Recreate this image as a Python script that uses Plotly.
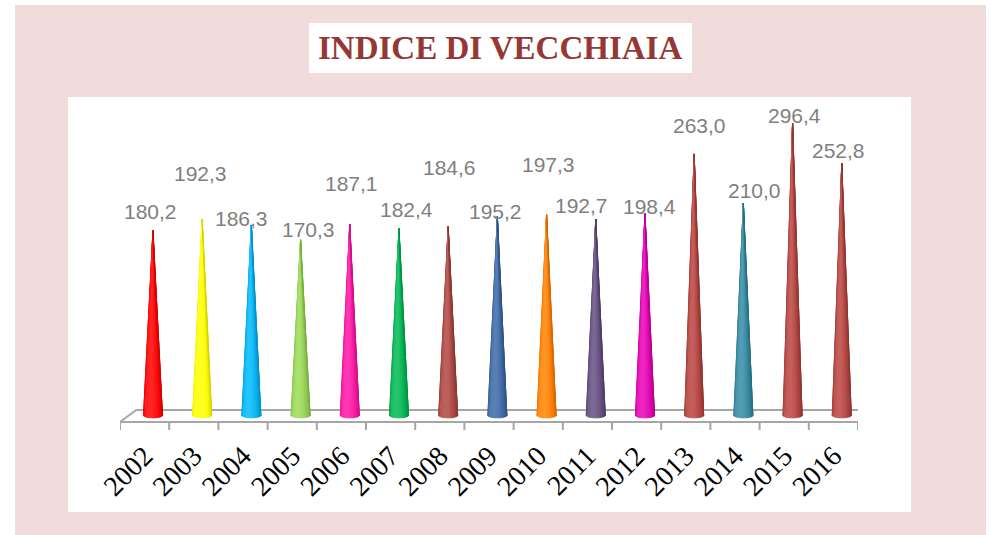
import numpy as np
import plotly.graph_objects as go

# ---------------- data ----------------
years = ["2002", "2003", "2004", "2005", "2006", "2007", "2008", "2009",
         "2010", "2011", "2012", "2013", "2014", "2015", "2016"]
values = [180.2, 192.3, 186.3, 170.3, 187.1, 182.4, 184.6, 195.2,
          197.3, 192.7, 198.4, 263.0, 210.0, 296.4, 252.8]
value_labels = ["180,2", "192,3", "186,3", "170,3", "187,1", "182,4", "184,6", "195,2",
                "197,3", "192,7", "198,4", "263,0", "210,0", "296,4", "252,8"]

# ---------------- styles ----------------
cone_colors = ["#ff0000", "#ffff00", "#00b0f0", "#92d050", "#f7149f", "#00b050",
               "#a8423e", "#3a64a0", "#ff7c00", "#604a7b", "#de00ae", "#b0403c",
               "#31859c", "#b0403c", "#b0403c"]
label_dx = [-2, -2, -10, 8, 2, 8, 1, -2, 2, -14, 5, 5, 11, 2, -3]
label_dy = [19, 46, 7, 10, 41, 19, 59, 5, 50, 14, 7, 28, 13, 8, 13]

W, H = 991, 535
PINK = "#f0dcdb"
GRID = "#a6a6a6"

def px(x):
    return x / W

def py(y):
    return 1 - y / H

Y_RANGE = [-35.1, 321.3]
FLOOR_FRONT = -26.5
FLOOR_BACK = -13.5
DEPTH = 0.33
CONE_SHIFT = 0.17
CONE_R = 0.2
CONE_BASE = -19.0
CONE_E = 3.0

def hex2rgb(h):
    h = h.lstrip("#")
    return np.array([int(h[i:i + 2], 16) for i in (0, 2, 4)], dtype=float)

def shade(col, s):
    base = hex2rgb(col)
    c = base * (0.66 + 0.40 * s)
    c = c + (255 - c) * (0.15 * s ** 6)
    c = np.clip(c, 0, 255).astype(int)
    return "rgb(%d,%d,%d)" % tuple(c)

fig = go.Figure()

N = 12
thetas = np.linspace(0, np.pi, N + 1)
light = 0.42 * np.pi
for i, (v, col) in enumerate(zip(values, cone_colors)):
    xc = i + CONE_SHIFT
    for k in range(N):
        t0, t1 = thetas[k], thetas[k + 1]
        tm = 0.5 * (t0 + t1)
        s = 0.5 + 0.5 * np.cos(tm - light)
        ts = np.linspace(t0, t1, 3)
        bx = list(xc - CONE_R * np.cos(ts))
        by = list(CONE_BASE - CONE_E * np.sin(ts))
        xs = [xc] + bx + [xc]
        ys = [v] + by + [v]
        c = shade(col, s)
        fig.add_trace(go.Scatter(x=xs, y=ys, mode="lines", fill="toself",
                                 fillcolor=c, line=dict(color=c, width=1.0),
                                 hoverinfo="skip", showlegend=False))

# value labels
for i, (v, t) in enumerate(zip(values, value_labels)):
    fig.add_annotation(x=i + CONE_SHIFT, y=v, xref="x", yref="y", text=t,
                       showarrow=False, xanchor="center", yanchor="middle",
                       xshift=label_dx[i], yshift=label_dy[i],
                       font=dict(family="Liberation Sans", size=21, color="#7f7f7f"))

n = len(years)
shapes = [
    dict(type="rect", xref="paper", yref="paper", x0=px(15), x1=px(986),
         y0=py(535), y1=py(5), fillcolor=PINK, line=dict(width=0), layer="below"),
    dict(type="rect", xref="paper", yref="paper", x0=px(68), x1=px(911),
         y0=py(512), y1=py(97), fillcolor="white", line=dict(width=0), layer="below"),
    dict(type="rect", xref="paper", yref="paper", x0=px(309), x1=px(692),
         y0=py(73), y1=py(23), fillcolor="white", line=dict(width=0), layer="below"),
]
# floor outline
fl = dict(color=GRID, width=2)
x_left, x_right = -0.5, n - 0.5
shapes += [
    dict(type="line", xref="x", yref="y", x0=x_left, x1=x_right, y0=FLOOR_FRONT, y1=FLOOR_FRONT, line=fl, layer="below"),
    dict(type="line", xref="x", yref="y", x0=x_left + DEPTH, x1=x_right + DEPTH + 0.03, y0=FLOOR_BACK, y1=FLOOR_BACK, line=fl, layer="below"),
    dict(type="line", xref="x", yref="y", x0=x_left, x1=x_left + DEPTH, y0=FLOOR_FRONT, y1=FLOOR_BACK, line=fl, layer="below"),
    dict(type="line", xref="x", yref="y", x0=x_right, x1=x_right + DEPTH + 0.03, y0=FLOOR_FRONT, y1=FLOOR_BACK, line=fl, layer="below"),
]
for k in range(n + 1):
    xk = -0.5 + k
    shapes.append(dict(type="line", xref="x", yref="y", x0=xk, x1=xk,
                       y0=FLOOR_FRONT, y1=Y_RANGE[0], line=fl, layer="below"))

fig.add_annotation(x=px(500), y=py(48), xref="paper", yref="paper",
                   text="<b>INDICE DI VECCHIAIA</b>", showarrow=False,
                   xanchor="center", yanchor="middle",
                   font=dict(family="Liberation Serif", size=33, color="#953735"))

fig.update_layout(
    template="none",
    width=W, height=H,
    margin=dict(l=0, r=0, t=0, b=0, pad=0, autoexpand=False),
    paper_bgcolor="white",
    plot_bgcolor="rgba(0,0,0,0)",
    shapes=shapes,
    xaxis=dict(domain=[px(120), px(858)], range=[-0.5, n - 0.5],
               tickmode="array", tickvals=list(range(n)), ticktext=years,
               tickangle=-45, showgrid=False, zeroline=False, showline=False,
               ticks="", automargin=False, ticklabelstandoff=3,
               tickfont=dict(family="Liberation Serif", size=28, color="black"),
               fixedrange=True),
    yaxis=dict(domain=[py(430), py(100)], range=Y_RANGE, visible=False,
               automargin=False, fixedrange=True),
)

fig.write_html("out.html", config={"displayModeBar": False},
               post_script="document.body.style.margin='0';document.body.style.overflow='hidden';")
